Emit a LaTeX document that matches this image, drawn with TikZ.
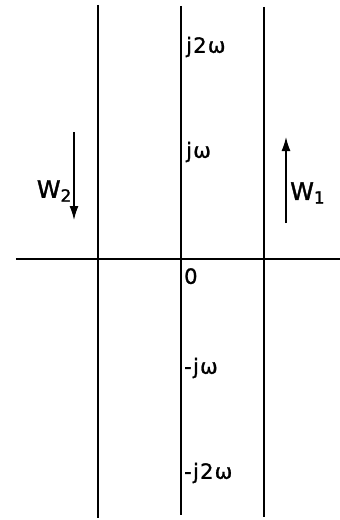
\documentclass[tikz,border=0pt]{standalone}
\usepackage{fontspec}
\setmainfont{DejaVu Sans}
\usepackage{tikz}
\usetikzlibrary{arrows.meta, positioning}
\tikzset{
  frontiere/.style={line width=2.8pt, color=black},
  axe/.style={line width=1.2pt, color=black},
  fleche/.style={-{Latex[length=14pt, width=9pt]}, line width=1.4pt},
  etiquette/.style={font=\fontsize{21}{24}\selectfont\addfontfeatures{LetterSpace=6, FakeBold=1.2}, inner sep=0pt, anchor=west},
  poids/.style={font=\fontsize{24}{27}\selectfont\addfontfeatures{FakeBold=1.5}, inner sep=0pt},
}
\begin{document}
\begin{tikzpicture}[x=1pt, y=1pt]
    \useasboundingbox (-181,-261) rectangle (159,259);
    % axes
    \coordinate (o) at (0,0);
    \coordinate (axegauche) at (-165,0);
    \coordinate (axedroit) at (159,0);
    \coordinate (haut) at (0,253);
    \coordinate (bas) at (0,-256);
    \draw[axe] (axegauche) -- (axedroit);
    \draw[axe] (haut) -- (bas);

    % lignes du plan
    \coordinate (g1) at (-83,254);
    \coordinate (g2) at (-83,-259);
    \coordinate (d1) at (83,252);
    \coordinate (d2) at (83,-258);
    \draw[frontiere] (g1) -- (g2);
    \draw[frontiere] (d1) -- (d2);

    % graduations
    \coordinate (p2) at (0,212);
    \coordinate (p1) at (0,107);
    \coordinate (m1) at (0,-109);
    \coordinate (m2) at (0,-214);
    \node[etiquette, right=5pt of p2] (lp2) {j2ω};
    \node[etiquette, right=5pt of p1] (lp1) {jω};
    \node[etiquette, anchor=north west] (lo) at (3,-9) {0};
    \node[etiquette, right=3pt of m1] (lm1) {-jω};
    \node[etiquette, right=3pt of m2] (lm2) {-j2ω};

    % sens de parcours
    \coordinate (w2a) at (-107,127);
    \coordinate (w2b) at (-107,39);
    \coordinate (w1a) at (105,36);
    \coordinate (w1b) at (105,122);
    \draw[fleche] (w2a) -- (w2b);
    \draw[fleche] (w1a) -- (w1b);
    \node[poids, anchor=east] (lw2) at (-109,68) {W\textsubscript{2}};
    \node[poids, anchor=west] (lw1) at (109,66) {W\textsubscript{1}};
\end{tikzpicture}
\end{document}
